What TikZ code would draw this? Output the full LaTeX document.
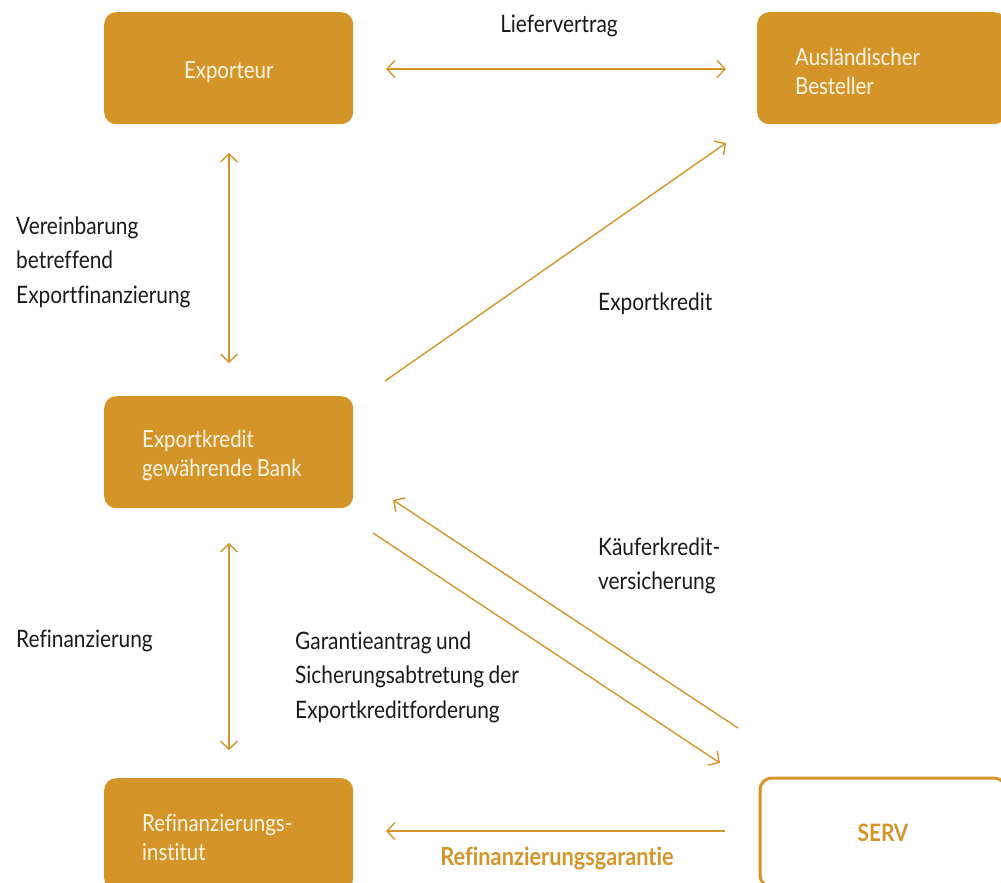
\documentclass[tikz,border=0pt]{standalone}
\usepackage{fontspec}
\setmainfont[FakeStretch=0.87,WordSpace=0.85,Ligatures={NoCommon}]{Lato}
\usetikzlibrary{arrows.meta}
\definecolor{serv}{HTML}{D49428}
\definecolor{ink}{HTML}{1A1A1A}
\definecolor{boxtxt}{HTML}{FFF6E8}
\begin{document}
\begin{tikzpicture}[x=1pt,y=-1pt,
  fillbox/.style={fill=serv, rounded corners=12pt, minimum height=112pt, minimum width=249pt,
    text width=173pt, anchor=north west, inner xsep=38pt, inner ysep=0pt, text=boxtxt,
    font=\fontsize{23.5}{29.5}\selectfont, align=flush left,
    execute at begin node=\rule{0pt}{24pt}},
  outbox/.style={draw=serv, line width=3pt, rounded corners=12pt, minimum height=109pt, minimum width=246pt,
    anchor=north west, inner sep=0pt, text=serv, font=\fontsize{24}{29.5}\selectfont\bfseries},
  lbl/.style={text=ink, font=\fontsize{24}{34.5}\selectfont, align=left, inner sep=0pt, anchor=west},
  conn/.style={draw=serv, line width=1.4pt, -{Straight Barb[length=8pt,width=17pt,line width=1.4pt]}},
  conn2/.style={draw=serv, line width=1.4pt, {Straight Barb[length=8pt,width=17pt,line width=1.4pt]}-{Straight Barb[length=8pt,width=17pt,line width=1.4pt]}}
]
\useasboundingbox (0,0) rectangle (1001,883);
\clip (0,0) rectangle (1001,883);

% boxes
\node[fillbox, align=flush center] (exp) at (104,12) {Exporteur};
\node[fillbox] (best) at (757,12) {Ausländischer\\Besteller};
\node[fillbox] (bank) at (104,396) {Exportkredit\\gewährende Bank};
\node[fillbox] (refi) at (104,778) {Refinanzierungs-\\institut};
\node[outbox] (serv) at (758.5,776.5) {SERV};

% connector end points
\coordinate (a1) at (386,69);  \coordinate (a2) at (726,69);
\coordinate (b1) at (229,153); \coordinate (b2) at (229,363);
\coordinate (c1) at (385,381); \coordinate (c2) at (726,143);
\coordinate (d1) at (229,543); \coordinate (d2) at (229,750);
\coordinate (e1) at (738,728); \coordinate (e2) at (393,500);
\coordinate (f1) at (373,533); \coordinate (f2) at (720,763);
\coordinate (g1) at (725,831); \coordinate (g2) at (386,831);

\draw[conn2] (a1) -- (a2);
\draw[conn2] (b1) -- (b2);
\draw[conn] (c1) -- (c2);
\draw[conn2] (d1) -- (d2);
\draw[conn] (e1) -- (e2);
\draw[conn] (f1) -- (f2);
\draw[conn] (g1) -- (g2);

% labels
\node[lbl, anchor=center] (l1) at (559,26) {Liefervertrag};
\node[lbl] (l2) at (16,262) {Vereinbarung\\betreffend\\Exportfinanzierung};
\node[lbl] (l3) at (598,304) {Exportkredit};
\node[lbl] (l4) at (16,641) {Refinanzierung};
\node[lbl] (l5) at (598,566) {Käuferkredit-\\versicherung};
\node[lbl] (l6) at (295,677) {Garantieantrag und\\Sicherungsabtretung der\\Exportkreditforderung};
\node[lbl, anchor=center, text=serv, font=\fontsize{25}{34.5}\selectfont\bfseries] (l7) at (557,858) {Refinanzierungsgarantie};
\end{tikzpicture}
\end{document}
